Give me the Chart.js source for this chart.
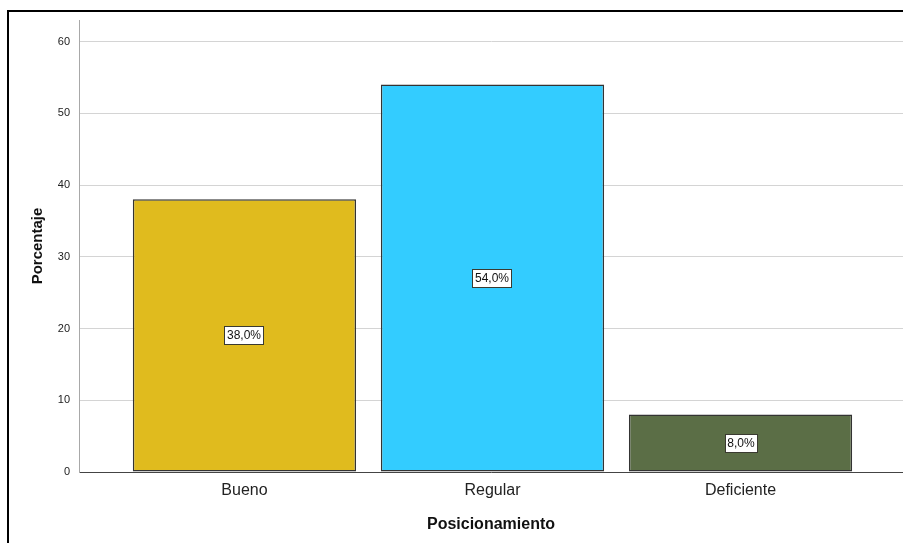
<!DOCTYPE html>
<html>
<head>
<meta charset="utf-8">
<script src="https://cdn.jsdelivr.net/npm/chart.js@4/dist/chart.umd.min.js"></script>
<style>
    html, body { margin: 0; padding: 0; background: #fff; overflow: hidden; }
    #wrap { position: relative; width: 903px; height: 543px; }
    #frame {
        position: absolute; left: 7px; top: 10px; right: -5px; bottom: -5px;
        border-top: 2px solid #000; border-left: 2px solid #000;
    }
    canvas { position: absolute; left: 0; top: 0; }
</style>
</head>
<body>
<div id="wrap">
    <div id="frame"></div>
    <canvas id="barChart" width="903" height="543"></canvas>
</div>
<script>
// Posicionamiento (%)
const categories = ['Bueno', 'Regular', 'Deficiente'];
const percentages = [38.0, 54.0, 8.0];
const barColors = ['#E0BB1E', '#33CCFF', '#5B6E46'];
const yTicks = [0, 10, 20, 30, 40, 50, 60];

// white boxed value label in the middle of each bar
const barLabels = {
    id: 'barLabels',
    afterDatasetsDraw(chart) {
        const ctx = chart.ctx;
        const meta = chart.getDatasetMeta(0);
        ctx.save();
        ctx.font = '12px "Liberation Sans", Arial, sans-serif';
        ctx.textAlign = 'center';
        ctx.textBaseline = 'middle';
        meta.data.forEach(function(bar, i) {
            const text = percentages[i].toFixed(1).replace('.', ',') + '%';
            const cx = Math.round(bar.x);
            const cy = Math.round((bar.y + bar.base) / 2);
            const w = Math.round(ctx.measureText(text).width) + 6;
            const h = 19;
            const left = Math.round(cx - w / 2);
            const top = Math.round(cy - h / 2);
            ctx.fillStyle = '#fff';
            ctx.fillRect(left, top, w, h);
            ctx.strokeStyle = '#3a3a30';
            ctx.lineWidth = 1;
            ctx.strokeRect(left + 0.5, top + 0.5, w - 1, h - 1);
            ctx.fillStyle = '#111';
            ctx.fillText(text, cx, cy + 1);
        });
        ctx.restore();
    }
};

const ctx = document.getElementById('barChart').getContext('2d');
new Chart(ctx, {
    type: 'bar',
    data: {
        datasets: [{
            data: percentages.map((v, i) => ({ x: i, y: v })),
            backgroundColor: barColors,
            borderColor: '#333',
            borderWidth: 1.5,
            borderSkipped: false,
            categoryPercentage: 1,
            barPercentage: 0.9
        }]
    },
    options: {
        responsive: false,
        animation: false,
        layout: { padding: { top: 20, left: 0, right: 0, bottom: 0 } },
        plugins: {
            legend: { display: false },
            tooltip: { enabled: false }
        },
        scales: {
            x: {
                type: 'linear',
                offset: false,
                min: -0.667,
                max: 2.655,
                afterBuildTicks: function(scale) {
                    scale.ticks = categories.map((c, i) => ({ value: i }));
                },
                afterFit: function(scale) { scale.height = 71; },
                grid: { display: false, drawTicks: false, offset: false },
                border: { color: '#444', width: 1 },
                ticks: {
                    padding: 9,
                    color: '#222',
                    font: { family: '"Liberation Sans", Arial, sans-serif', size: 16 },
                    callback: function(value) { return categories[value] || ''; }
                },
                title: {
                    display: true,
                    text: 'Posicionamiento',
                    color: '#111',
                    font: { family: '"Liberation Sans", Arial, sans-serif', size: 16, weight: 'bold' },
                    padding: { top: 0, bottom: 9 }
                }
            },
            y: {
                min: 0,
                max: 63,
                afterBuildTicks: function(scale) {
                    scale.ticks = yTicks.map(v => ({ value: v }));
                },
                afterFit: function(scale) { scale.width = 79; },
                grid: { color: '#d4d4d4', drawTicks: false },
                border: { color: '#a8a8a8', width: 1 },
                ticks: {
                    padding: 9,
                    color: '#222',
                    font: { family: '"Liberation Sans", Arial, sans-serif', size: 11 }
                },
                title: {
                    display: true,
                    text: 'Porcentaje',
                    color: '#111',
                    font: { family: '"Liberation Sans", Arial, sans-serif', size: 15, weight: 'bold' },
                    padding: { top: 29, bottom: 0 }
                }
            }
        }
    },
    plugins: [barLabels]
});
</script>
</body>
</html>
